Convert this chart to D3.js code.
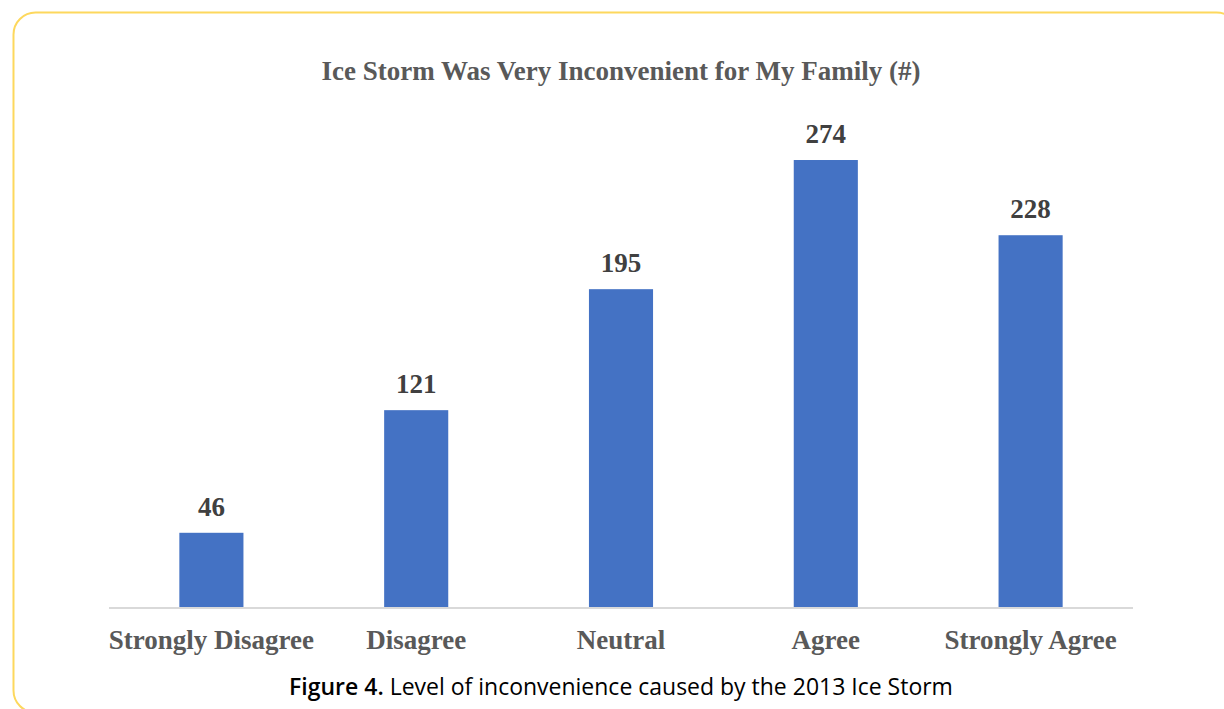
<!DOCTYPE html>
<html>
<head>
<meta charset="utf-8">
<script src="https://cdn.jsdelivr.net/npm/d3@7"></script>
<style>
  html, body { margin: 0; padding: 0; background: #ffffff; }
  svg { display: block; }
</style>
</head>
<body>
<svg id="chart" width="1224" height="709"></svg>
<script>
const categories = ["Strongly Disagree", "Disagree", "Neutral", "Agree", "Strongly Agree"];
const values = [46, 121, 195, 274, 228];
const chartTitle = "Ice Storm Was Very Inconvenient for My Family (#)";
const captionBold = "Figure 4.";
const captionRest = " Level of inconvenience caused by the 2013 Ice Storm";

const svg = d3.select("#chart");

// frame
svg.append("rect")
  .attr("x", 13.5).attr("y", 12.5)
  .attr("width", 1225).attr("height", 700)
  .attr("rx", 22).attr("ry", 22)
  .attr("fill", "none")
  .attr("stroke", "#fdd85d")
  .attr("stroke-width", 2);

const margin = { left: 109, right: 1133, top: 117.5, bottom: 608 };

const x = d3.scaleBand()
  .domain(categories)
  .range([margin.left, margin.right])
  .paddingInner(0.687)
  .paddingOuter(0.3435);

const y = d3.scaleLinear()
  .domain([0, 300])
  .range([margin.bottom, margin.top]);

const serif = "'Liberation Serif', 'Times New Roman', serif";

// title
svg.append("text")
  .attr("x", 621).attr("y", 80)
  .attr("text-anchor", "middle")
  .attr("font-family", serif)
  .attr("font-weight", "bold")
  .attr("font-size", 27)
  .attr("fill", "#595959")
  .text(chartTitle);

// bars
svg.append("g").selectAll("rect")
  .data(values)
  .join("rect")
  .attr("x", (d, i) => x(categories[i]))
  .attr("y", d => y(d))
  .attr("width", x.bandwidth())
  .attr("height", d => y(0) - y(d))
  .attr("fill", "#4472c4");

// value labels
svg.append("g").selectAll("text")
  .data(values)
  .join("text")
  .attr("x", (d, i) => x(categories[i]) + x.bandwidth() / 2)
  .attr("y", d => y(d) - 17)
  .attr("text-anchor", "middle")
  .attr("font-family", serif)
  .attr("font-weight", "bold")
  .attr("font-size", 27)
  .attr("fill", "#404040")
  .text(d => d);

// x axis
const xAxis = d3.axisBottom(x).tickSize(0).tickPadding(0);
const gx = svg.append("g")
  .attr("transform", `translate(0,${margin.bottom})`)
  .call(xAxis);
gx.select(".domain")
  .attr("stroke", "#d9d9d9")
  .attr("stroke-width", 2)
  .attr("d", `M${margin.left},0H${margin.right}`);
gx.selectAll(".tick text")
  .attr("dy", null)
  .attr("y", 41)
  .attr("font-family", serif)
  .attr("font-weight", "bold")
  .attr("font-size", 27)
  .attr("fill", "#595959");

// caption
const cap = svg.append("text")
  .attr("x", 621).attr("y", 695)
  .attr("text-anchor", "middle")
  .attr("font-family", "'Open Sans', 'Noto Sans', sans-serif")
  .attr("font-size", 21)
  .attr("fill", "#000000");
cap.append("tspan").attr("font-weight", 600).text(captionBold);
cap.append("tspan").attr("font-weight", 400).text(captionRest);
const targetW = 664;
const cw = cap.node().getComputedTextLength();
if (cw > 0) {
  const fs = 21 * targetW / cw;
  cap.attr("font-size", Math.min(fs, 23));
  const cw2 = cap.node().getComputedTextLength();
  if (cw2 > targetW + 2) cap.attr("textLength", targetW).attr("lengthAdjust", "spacingAndGlyphs");
}
</script>
</body>
</html>
